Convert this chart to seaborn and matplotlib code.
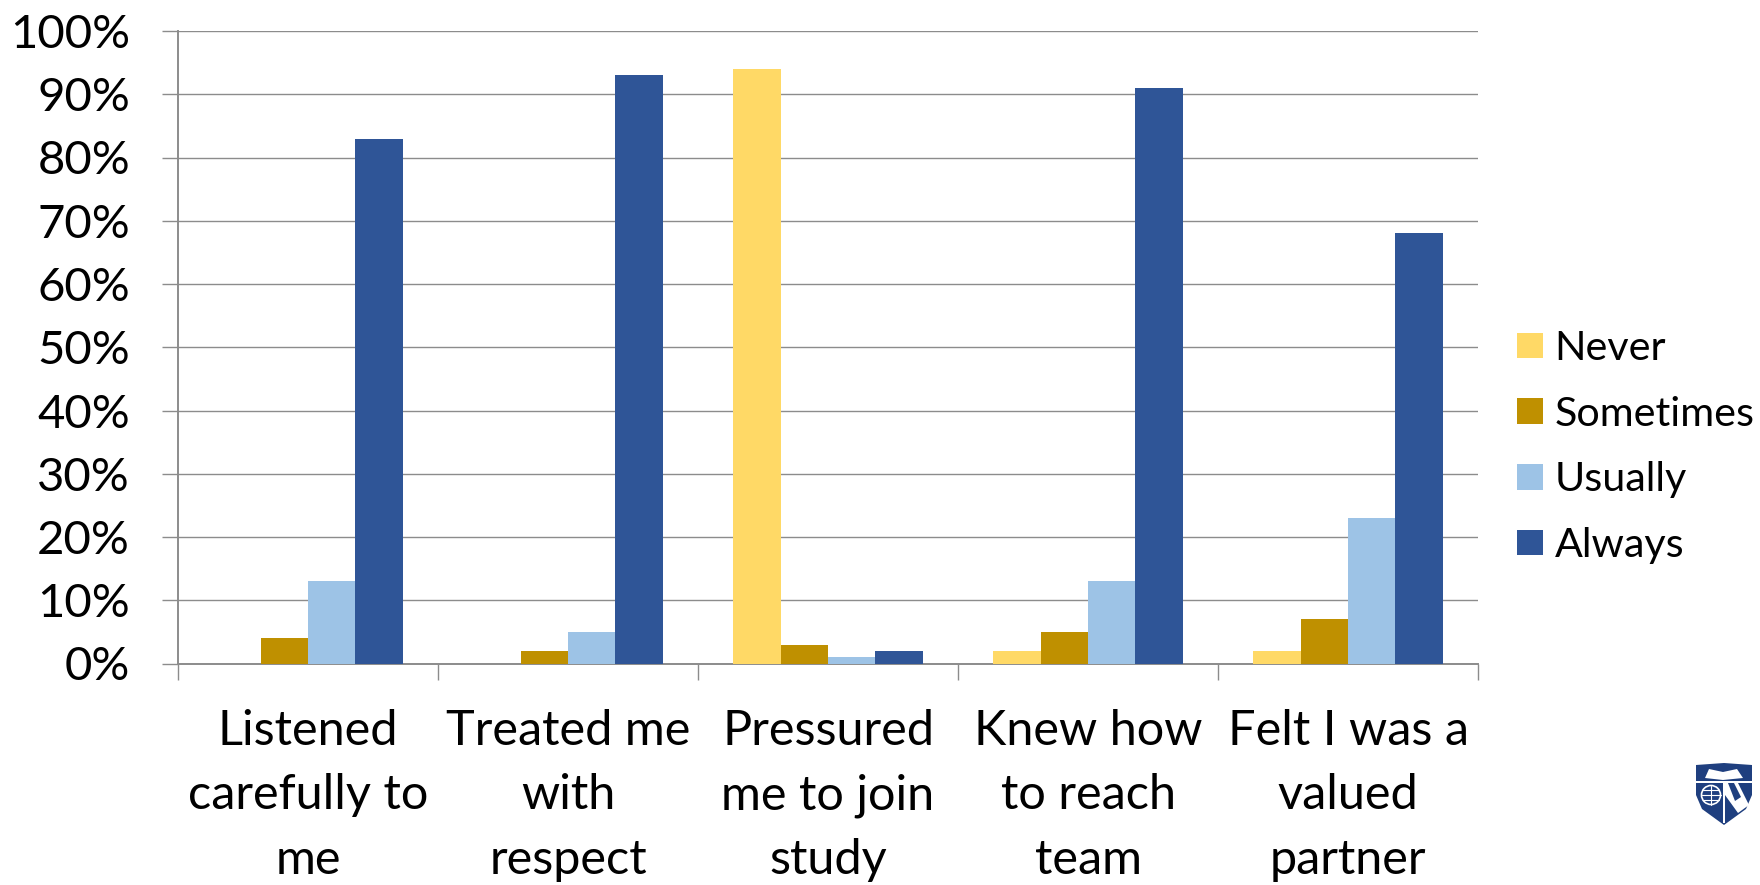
import matplotlib
matplotlib.use("Agg")
import matplotlib.pyplot as plt
from matplotlib.patches import Polygon, Circle, Rectangle
import seaborn as sns
import pandas as pd

categories = ["Listened\ncarefully to\nme", "Treated me\nwith\nrespect", "Pressured\nme to join\nstudy", "Knew how\nto reach\nteam", "Felt I was a\nvalued\npartner"]
never = [0, 0, 94, 2, 2]
sometimes = [4, 2, 3, 5, 7]
usually = [13, 5, 1, 13, 23]
always = [83, 93, 2, 91, 68]
series = ["Never", "Sometimes", "Usually", "Always"]
colors = ["#FFD966", "#BF9000", "#9DC3E6", "#2F5597"]
yticks = list(range(0, 101, 10))

sns.set_theme(style="white")
plt.rcParams['font.family'] = ['Lato', 'DejaVu Sans']

df = pd.DataFrame({"cat": categories * 4,
                   "series": sum([[s] * 5 for s in series], []),
                   "value": never + sometimes + usually + always})

fig = plt.figure(figsize=(17.6, 8.85), dpi=100)
ax = fig.add_axes([178/1760, 1-663.5/885, (1478-178)/1760, (663.5-31)/885])
sns.barplot(data=df, x="cat", y="value", hue="series", palette=colors, hue_order=series,
            order=categories, width=0.73, saturation=1, ax=ax, legend=True, zorder=3,
            linewidth=0, edgecolor="none")
ax.set_xlim(-0.5, 4.5)
ax.set_ylim(0, 100)
ax.set_xlabel(""); ax.set_ylabel("")
ax.set_yticks(yticks)
ax.set_yticklabels([f"{v}%" for v in yticks], fontsize=34, color="black")
ax.set_xticks([i + 0.5 for i in range(-1, 5)], minor=False)
ax.set_xticklabels([""] * 6)
for i, c in enumerate(categories):
    ax.annotate(c, xy=(i, 0), xycoords=("data", "axes fraction"), xytext=(0, -33),
                textcoords="offset points", ha="center", va="top", fontsize=35,
                linespacing=1.56, color="black", annotation_clip=False)
ax.grid(axis="y", color="#8c8c8c", lw=1, zorder=0)
ax.set_axisbelow(True)
for s in ["top", "right"]:
    ax.spines[s].set_visible(False)
for s in ["left", "bottom"]:
    ax.spines[s].set_color("#8c8c8c")
    ax.spines[s].set_linewidth(1.4)
ax.tick_params(axis="both", length=11.5, color="#8c8c8c", width=1, left=True, bottom=True, pad=23)
ax.tick_params(axis="x", pad=6)
handles, labels = ax.get_legend_handles_labels()
leg = ax.legend(handles, labels, loc="center left", bbox_to_anchor=(1517/1760, 1-447/885),
          bbox_transform=fig.transFigure, frameon=False, fontsize=29.7, handlelength=0.63,
          handleheight=0.58, handletextpad=0.28, labelspacing=0.694, borderpad=0, borderaxespad=0,
          labelcolor="black")

# Shield emblem at lower right
navy = "#1F3F7F"
lg = fig.add_axes([1696/1760, 1-825/885, 56/1760, 62/885])
lg.set_xlim(0, 56); lg.set_ylim(62, 0); lg.axis("off")
lg.add_patch(Polygon([(0, 2), (28, 0), (56, 2), (56, 32), (50, 46), (28, 62), (6, 46), (0, 32)],
                     closed=True, fc=navy, ec="none"))
lg.add_patch(Polygon([(9, 15), (13, 6), (27, 9), (41, 6), (47, 15), (27, 17)],
                     closed=True, fc="white", ec="none"))
lg.add_patch(Rectangle((0, 18), 56, 1.5, fc="white", ec="none"))
lg.add_patch(Rectangle((27, 18), 1.5, 42, fc="white", ec="none"))
lg.add_patch(Circle((15, 32), 9.5, fc=navy, ec="white", lw=1.2))
lg.plot([5.5, 24.5], [32, 32], color="white", lw=0.8)
lg.plot([15, 15], [22.5, 41.5], color="white", lw=0.8)
lg.plot([7, 23], [27, 27], color="white", lw=0.8)
lg.plot([7, 23], [37, 37], color="white", lw=0.8)
lg.add_patch(Polygon([(29, 20), (42, 20), (53, 42), (42, 50), (29, 32)], closed=True, fc="white", ec="none"))
lg.add_patch(Polygon([(32, 20), (38, 20), (45, 34), (39, 38)], closed=True, fc=navy, ec="none"))
lg.add_patch(Polygon([(30, 36), (37, 44), (31, 52)], closed=True, fc=navy, ec="none"))

fig.savefig("out.png", dpi=100)
